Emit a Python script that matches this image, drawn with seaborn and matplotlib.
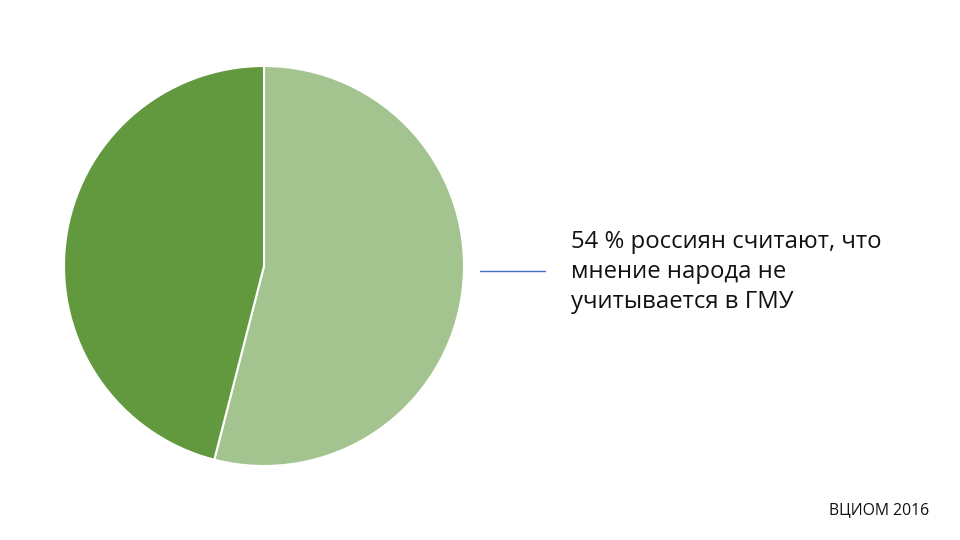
import matplotlib
matplotlib.use("Agg")
import matplotlib.pyplot as plt
import seaborn as sns

# данные
labels = ["не учитывается", "учитывается"]
shares = [54, 46]
colors = ["#A3C48F", "#62993E"]
caption = "54 % россиян считают, что\nмнение народа не\nучитывается в ГМУ"
source = "ВЦИОМ 2016"

sns.set_theme(style="white")
plt.rcParams['font.family'] = ['Open Sans', 'DejaVu Sans']

fig = plt.figure(figsize=(9.6, 5.4), dpi=100)
fig.patch.set_facecolor("white")

# круговая диаграмма
ax = fig.add_axes([64 / 960, 74 / 540, 400 / 960, 400 / 540])
ax.pie(shares, colors=sns.color_palette(colors), startangle=90, counterclock=False,
       radius=1.0, wedgeprops=dict(edgecolor="white", linewidth=1.5))
ax.set_xlim(-1, 1)
ax.set_ylim(-1, 1)
ax.set_aspect("equal")
ax.axis("off")

# выноска
fig.add_artist(plt.Line2D([480 / 960, 545 / 960], [1 - 271 / 540, 1 - 271 / 540],
                          color="#3F72C6", linewidth=1.0))
fig.text(571 / 960, 1 - 272 / 540, caption, fontsize=17.2, color="#111111",
         ha="left", va="center", linespacing=1.33)

fig.text(929 / 960, 1 - 511 / 540, source, fontsize=11.3, color="#111111",
         ha="right", va="center")

fig.savefig("out.png", dpi=100, facecolor="white")
